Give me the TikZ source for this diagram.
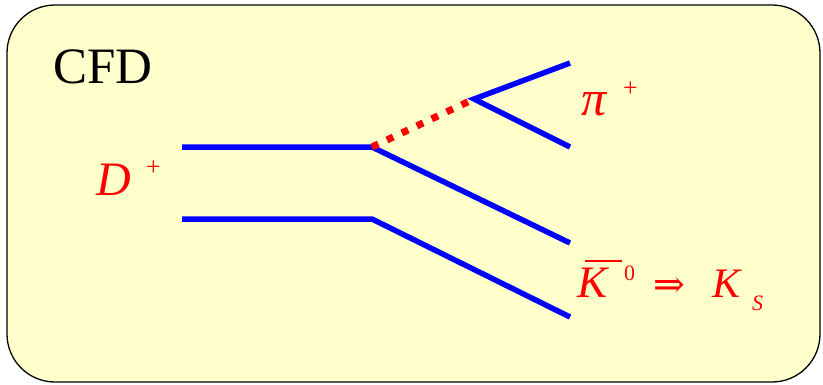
\documentclass[tikz,border=0pt]{standalone}
\usepackage{fontspec}
\setmainfont{Liberation Serif}
\newfontfamily\tnr{Liberation Serif}
\newfontfamily\arrfont{DejaVu Serif}
\begin{document}
\begin{tikzpicture}[x=1pt,y=-1pt,
  quark/.style={draw=blue,line width=5.5pt},
  gluon/.style={draw=red,line width=7pt,dash pattern=on 7pt off 9.5pt},
  lab/.style={text=red,inner sep=0pt,anchor=base west}]
\useasboundingbox (0,0) rectangle (823,384);
\draw[fill={rgb,255:red,255;green,255;blue,204},line width=1.3pt,rounded corners=48pt] (7,5) rectangle (820,382);
\node[inner sep=0pt,anchor=base west,font=\tnr\fontsize{51}{51}\selectfont] (cfd) at (53,83) {CFD};
\coordinate (a1) at (182,147);
\coordinate (v) at (372,147);
\coordinate (k1) at (570,243);
\coordinate (a2) at (182,219);
\coordinate (b2) at (372,219);
\coordinate (k2) at (570,317);
\coordinate (w) at (474,99);
\coordinate (p1) at (570,63);
\coordinate (p2) at (570,147);
\draw[quark] (a1) -- (v) -- (k1);
\draw[quark] (a2) -- (b2) -- (k2);
\draw[gluon] (v) -- (w);
\draw[quark,line join=miter] (p1) -- (w) -- (p2);
\node[lab,font=\tnr\fontsize{48}{48}\selectfont] (D) at (96,195) {\textit{D}};
\node[lab,font=\tnr\fontsize{26}{26}\selectfont] (Dp) at (146,175) {+};
\node[lab,font=\tnr\fontsize{50}{50}\selectfont] (pi) at (581,115) {\textit{π}};
\node[lab,font=\tnr\fontsize{26}{26}\selectfont] (pip) at (623,96) {+};
\node[lab,font=\tnr\fontsize{45}{45}\selectfont] (K) at (577,297) {\rlap{\hspace{8pt}\raisebox{35pt}{\rule{37pt}{1.6pt}}}\textit{K}};
\node[lab,font=\tnr\fontsize{22}{22}\selectfont] (K0) at (624,280) {0};
\node[lab,font=\arrfont\fontsize{38}{38}\selectfont] (arr) at (653,297) {⇒};
\node[lab,font=\tnr\fontsize{42}{42}\selectfont] (KS) at (712,297) {\textit{K}};
\node[lab,font=\tnr\fontsize{22}{22}\selectfont] (S) at (752,310) {\textit{S}};
\end{tikzpicture}
\end{document}
